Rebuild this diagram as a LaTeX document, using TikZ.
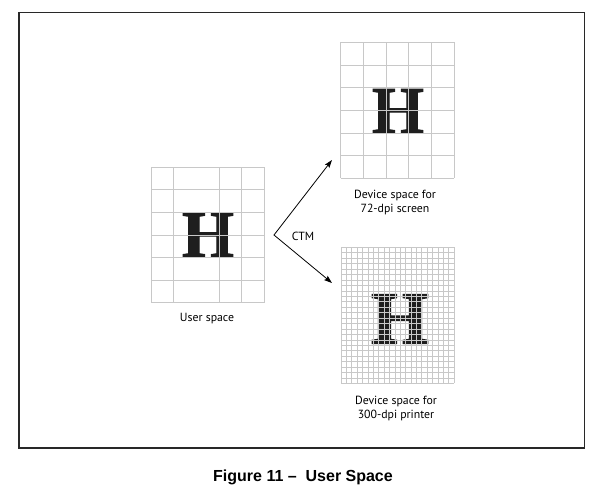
\documentclass[tikz,border=0pt]{standalone}
\usepackage{fontspec}
\newfontfamily\labelfont{PT Sans}
\newfontfamily\capfont{Liberation Sans}
\newfontfamily\hfont[FakeBold=1.5]{Liberation Serif Bold}
\newfontfamily\hfontheavy[FakeBold=2.5]{Liberation Serif Bold}
\usetikzlibrary{arrows.meta}
\definecolor{gridc}{RGB}{200,200,200}
\definecolor{framec}{RGB}{40,40,40}
\definecolor{hc}{RGB}{30,30,30}
\tikzset{
  framebox/.style={draw=framec,line width=1.1pt},
  gridline/.style={draw=gridc,line width=0.9pt},
  finegrid/.style={draw=gridc,line width=0.55pt},
  hglyph/.style={inner sep=0pt,text=hc,font=\hfont\fontsize{67}{67}\selectfont},
  lbl/.style={inner sep=0pt,font=\labelfont\fontsize{11.8}{14.5}\selectfont,align=center},
  ctmarrow/.style={draw=black,line width=0.8pt,{Stealth[length=8pt,width=5.5pt,inset=1.5pt]}-{Stealth[length=8pt,width=5.5pt,inset=1.5pt]}},
  caption/.style={inner sep=0pt,font=\capfont\bfseries\fontsize{16}{18}\selectfont}
}
\begin{document}
\begin{tikzpicture}[x=1pt,y=-1pt]
\useasboundingbox (0,0) rectangle (606,493);
\fill[white] (0,0) rectangle (606,493);
\draw[framebox] (19,12.5) rectangle (584.3,448);

% user space
\node[hglyph] (h1) at (208,235) {H};
\foreach \x in {151,173.7,219,241.7,264} \draw[gridline] (\x,167.3) -- (\x,302.7);
\foreach \i in {0,...,6} \draw[gridline] (151,167.3+\i*22.57) -- (264,167.3+\i*22.57);
\node[lbl] (l1) at (207,319) {User space};

% 72 dpi
\node[hglyph] (h2) at (398,111) {H};
\foreach \i in {0,...,5} \draw[gridline] (340.7+\i*22.66,42.3) -- (340.7+\i*22.66,178.3);
\foreach \i in {0,...,6} \draw[gridline] (340.7,42.3+\i*22.67) -- (454,42.3+\i*22.67);
\node[lbl] (l2) at (395,202.5) {Device space for\\72-dpi screen};

% 300 dpi
\node[hglyph,font=\hfontheavy\fontsize{74}{74}\selectfont] (h3) at (400,319) {H};
\foreach \i in {0,...,21} \draw[finegrid] (341+\i*5.381,247.3) -- (341+\i*5.381,383.3);
\foreach \i in {0,...,25} \draw[finegrid] (341,247.3+\i*5.44) -- (454,247.3+\i*5.44);
\node[lbl] (l3) at (396,408.5) {Device space for\\300-dpi printer};

% CTM arrows
\coordinate (v) at (274,235);
\coordinate (t1) at (332,160);
\coordinate (t2) at (332,283);
\draw[ctmarrow] (t1) -- (v) -- (t2);
\node[lbl] (ctm) at (303,236) {CTM};

\node[caption] (cap) at (303,477) {Figure 11 –\ \ User Space};
\end{tikzpicture}
\end{document}
